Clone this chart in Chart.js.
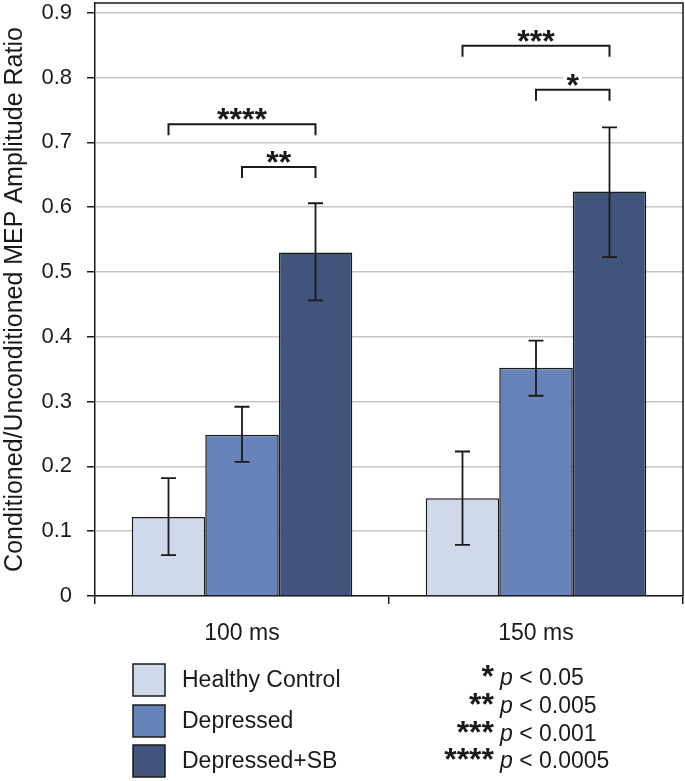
<!DOCTYPE html>
<html>
<head>
<meta charset="utf-8">
<script src="https://cdn.jsdelivr.net/npm/chart.js@4.4.1/dist/chart.umd.min.js"></script>
<style>
  html, body { margin: 0; padding: 0; background: #fff; }
  #wrap { width: 685px; height: 781px; }
</style>
</head>
<body>
<div id="wrap"><canvas id="chart" width="685" height="781"></canvas></div>
<script>
// data
const categories = ['100 ms', '150 ms'];
const seriesNames = ['Healthy Control', 'Depressed', 'Depressed+SB'];

const healthyMean = [0.122, 0.151];
const healthyLow  = [0.063, 0.079];
const healthyHigh = [0.182, 0.223];

const depressedMean = [0.249, 0.352];
const depressedLow  = [0.207, 0.309];
const depressedHigh = [0.292, 0.394];

const sbMean = [0.530, 0.624];
const sbLow  = [0.456, 0.523];
const sbHigh = [0.606, 0.723];

const yTicks = [0, 0.1, 0.2, 0.3, 0.4, 0.5, 0.6, 0.7, 0.8, 0.9];

// significance brackets: category, from series, to series, height (y value), label
const brackets = [
  { cat: 0, from: 0, to: 2, level: 0.728, label: '****' },
  { cat: 0, from: 1, to: 2, level: 0.662, label: '**' },
  { cat: 1, from: 0, to: 2, level: 0.849, label: '***' },
  { cat: 1, from: 1, to: 2, level: 0.781, label: '*' }
];

const pStars  = ['*', '**', '***', '****'];
const pValues = ['0.05', '0.005', '0.001', '0.0005'];

const colors = ['#d0d9ea', '#6883b9', '#41547c'];
const ink = '#1a1a1a';
const fontFamily = '"Liberation Sans", Arial, Helvetica, sans-serif';
const starSize = 32;

const lows = [healthyLow, depressedLow, sbLow];
const highs = [healthyHigh, depressedHigh, sbHigh];

// error bars, brackets, frame, legend
const overlayPlugin = {
  id: 'overlay',
  afterDatasetsDraw(chart) {
    const ctx = chart.ctx;
    const y = chart.scales.y;
    const area = chart.chartArea;
    ctx.save();
    ctx.strokeStyle = ink;
    ctx.lineCap = 'butt';

    // frame top + right
    ctx.lineWidth = 1.5;
    ctx.beginPath();
    ctx.moveTo(area.left, area.top);
    ctx.lineTo(area.right, area.top);
    ctx.lineTo(area.right, area.bottom);
    ctx.stroke();

    // error bars
    chart.data.datasets.forEach((ds, i) => {
      const meta = chart.getDatasetMeta(i);
      meta.data.forEach((bar, j) => {
        const yLo = y.getPixelForValue(lows[i][j]);
        const yHi = y.getPixelForValue(highs[i][j]);
        const cap = 7.5;
        ctx.lineWidth = 1.8;
        ctx.beginPath();
        ctx.moveTo(bar.x, yLo); ctx.lineTo(bar.x, yHi);
        ctx.moveTo(bar.x - cap, yLo); ctx.lineTo(bar.x + cap, yLo);
        ctx.moveTo(bar.x - cap, yHi); ctx.lineTo(bar.x + cap, yHi);
        ctx.stroke();
      });
    });

    // brackets
    ctx.font = 'bold ' + starSize + 'px ' + fontFamily;
    ctx.textAlign = 'center';
    ctx.textBaseline = 'alphabetic';
    brackets.forEach(b => {
      const x1 = chart.getDatasetMeta(b.from).data[b.cat].x;
      const x2 = chart.getDatasetMeta(b.to).data[b.cat].x;
      const yy = y.getPixelForValue(b.level);
      ctx.lineWidth = 2;
      ctx.beginPath();
      ctx.moveTo(x1, yy + 11);
      ctx.lineTo(x1, yy);
      ctx.lineTo(x2, yy);
      ctx.lineTo(x2, yy + 11);
      ctx.stroke();
      const cx = (x1 + x2) / 2;
      const w = ctx.measureText(b.label).width;
      ctx.fillStyle = '#fff';
      ctx.fillRect(cx - w / 2 - 3, yy - 19, w + 6, 14);
      ctx.fillStyle = ink;
      ctx.fillText(b.label, cx, yy - 12 + 0.57 * starSize);
    });
    ctx.restore();
  },
  afterDraw(chart) {
    const ctx = chart.ctx;
    ctx.save();
    // series legend
    const boxX = 133, boxTops = [664, 705, 745], box = 32;
    ctx.font = '23px ' + fontFamily;
    ctx.textAlign = 'left';
    ctx.textBaseline = 'middle';
    seriesNames.forEach((name, i) => {
      ctx.fillStyle = colors[i];
      ctx.fillRect(boxX, boxTops[i], box, box);
      ctx.lineWidth = 1.5;
      ctx.strokeStyle = ink;
      ctx.strokeRect(boxX, boxTops[i], box, box);
      ctx.fillStyle = ink;
      ctx.fillText(name, 182, boxTops[i] + box / 2 + 1);
    });

    // p-value key
    const baselines = [685, 713, 741, 768];
    ctx.textBaseline = 'alphabetic';
    pStars.forEach((s, i) => {
      ctx.font = 'bold ' + starSize + 'px ' + fontFamily;
      ctx.textAlign = 'right';
      ctx.fillText(s, 494, baselines[i] - 16 + 0.57 * starSize);
      ctx.textAlign = 'left';
      ctx.font = 'italic 23px ' + fontFamily;
      ctx.fillText('p', 500, baselines[i]);
      const pw = ctx.measureText('p').width;
      ctx.font = '23px ' + fontFamily;
      ctx.fillText(' < ' + pValues[i], 500 + pw, baselines[i]);
    });
    ctx.restore();
  }
};

function makeDataset(label, means, i) {
  return {
    label: label,
    data: means,
    backgroundColor: colors[i],
    borderColor: ink,
    borderWidth: 1.5,
    categoryPercentage: 0.75,
    barPercentage: 1.0
  };
}

new Chart(document.getElementById('chart').getContext('2d'), {
  type: 'bar',
  data: {
    labels: categories,
    datasets: [
      makeDataset(seriesNames[0], healthyMean, 0),
      makeDataset(seriesNames[1], depressedMean, 1),
      makeDataset(seriesNames[2], sbMean, 2)
    ]
  },
  options: {
    responsive: false,
    animation: false,
    layout: { padding: { top: 3, right: 2, left: 0, bottom: 0 } },
    plugins: {
      legend: { display: false },
      tooltip: { enabled: false }
    },
    scales: {
      x: {
        offset: true,
        grid: {
          offset: true,
          drawOnChartArea: false,
          drawTicks: true,
          tickLength: 8,
          color: ink,
          lineWidth: 1.5
        },
        border: { color: ink, width: 1.5 },
        ticks: {
          color: ink,
          padding: 16,
          font: { family: fontFamily, size: 23 }
        },
        afterFit(scale) {
          scale.height = 185;
          scale.paddingLeft = 0;
          scale.paddingRight = 0;
        }
      },
      y: {
        min: 0,
        max: 0.915,
        afterBuildTicks(scale) {
          scale.ticks = yTicks.map(v => ({ value: v }));
        },
        grid: {
          color: '#cbc4bd',
          lineWidth: 1.5,
          tickColor: ink,
          tickLength: 8
        },
        border: { color: ink, width: 1.5 },
        ticks: {
          color: ink,
          padding: 15,
          font: { family: fontFamily, size: 22 },
          callback: v => (v === 0 ? '0' : v.toFixed(1))
        },
        title: {
          display: true,
          text: 'Conditioned/Unconditioned MEP Amplitude Ratio',
          color: ink,
          font: { family: fontFamily, size: 25 },
          padding: { top: 0, bottom: 0 }
        },
        afterFit(scale) {
          scale.width = 95;
          scale.paddingTop = 0;
          scale.paddingBottom = 0;
        }
      }
    }
  },
  plugins: [overlayPlugin]
});
</script>
</body>
</html>
